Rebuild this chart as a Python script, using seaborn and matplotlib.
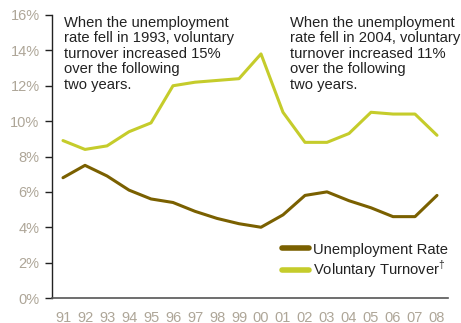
import matplotlib
matplotlib.use("Agg")
import matplotlib.pyplot as plt
import seaborn as sns
import pandas as pd
import numpy as np

years = ["91","92","93","94","95","96","97","98","99","00","01","02","03","04","05","06","07","08"]
unemployment = [6.8,7.5,6.9,6.1,5.6,5.4,4.9,4.5,4.2,4.0,4.7,5.8,6.0,5.5,5.1,4.6,4.6,5.8]
turnover = [8.9,8.4,8.6,9.4,9.9,12.0,12.2,12.3,12.4,13.8,10.5,8.8,8.8,9.3,10.5,10.4,10.4,9.2]
yticks = [0,2,4,6,8,10,12,14,16]
labels = ["Unemployment Rate", "Voluntary Turnover$^{\\dagger}$"]

sns.set_style("white")
plt.rcParams['font.family'] = ['Liberation Sans', 'DejaVu Sans']
plt.rcParams['mathtext.fontset'] = 'custom'
plt.rcParams['mathtext.rm'] = 'Liberation Sans'

df = pd.DataFrame({
    "pos": list(range(len(years))) * 2,
    "value": unemployment + turnover,
    "series": [labels[0]] * len(years) + [labels[1]] * len(years),
})

fig = plt.figure(figsize=(4.61, 3.23), dpi=100)
ax = fig.add_axes([52/461, 1 - 298/323, 396/461, 283/323])
palette = {labels[0]: "#7a6000", labels[1]: "#c5cc2b"}
sns.lineplot(data=df, x="pos", y="value", hue="series", palette=palette, linewidth=2.2, ax=ax)

ax.set_xlim(-0.5, len(years) - 0.5)
ax.set_ylim(0, 16)
ax.set_xlabel("")
ax.set_ylabel("")
tickc = "#aea698"
ax.set_xticks(range(len(years)))
ax.set_xticklabels(years, color=tickc, fontsize=10.5)
ax.set_xticks(np.arange(-0.5, len(years), 1.0), minor=True)
ax.tick_params(axis="x", which="major", length=0, pad=9)
ax.tick_params(axis="x", which="minor", length=6, width=1, color="#333333", direction="out")
ax.set_yticks(yticks)
ax.set_yticklabels([f"{v}%" for v in yticks], color=tickc, fontsize=10.5)
ax.tick_params(axis="y", length=5, width=1, color="#222222", direction="out", pad=4)
ax.tick_params(axis="both", bottom=True, left=True)
for s in ["top", "right"]:
    ax.spines[s].set_visible(False)
ax.spines["left"].set_color("#222222")
ax.spines["bottom"].set_color("#555555")
ax.spines["left"].set_linewidth(1)
ax.spines["bottom"].set_linewidth(1.2)

ax.text(0.03, 15.95, "When the unemployment\nrate fell in 1993, voluntary\nturnover increased 15%\nover the following\ntwo years.",
        fontsize=10.6, color="#222222", va="top", ha="left", linespacing=1.13)
ax.text(10.3, 15.95, "When the unemployment\nrate fell in 2004, voluntary\nturnover increased 11%\nover the following\ntwo years.",
        fontsize=10.6, color="#222222", va="top", ha="left", linespacing=1.13)

leg = ax.legend(loc="lower right", bbox_to_anchor=(448/461, 1 - 280/323), bbox_transform=fig.transFigure,
                frameon=False, fontsize=10.6, borderpad=0, borderaxespad=0,
                handlelength=1.8, handletextpad=0.3, labelspacing=0.12)
for line in leg.get_lines():
    line.set_linewidth(4)
for t in leg.get_texts():
    t.set_color("#222222")

fig.savefig("out.png", dpi=100)
